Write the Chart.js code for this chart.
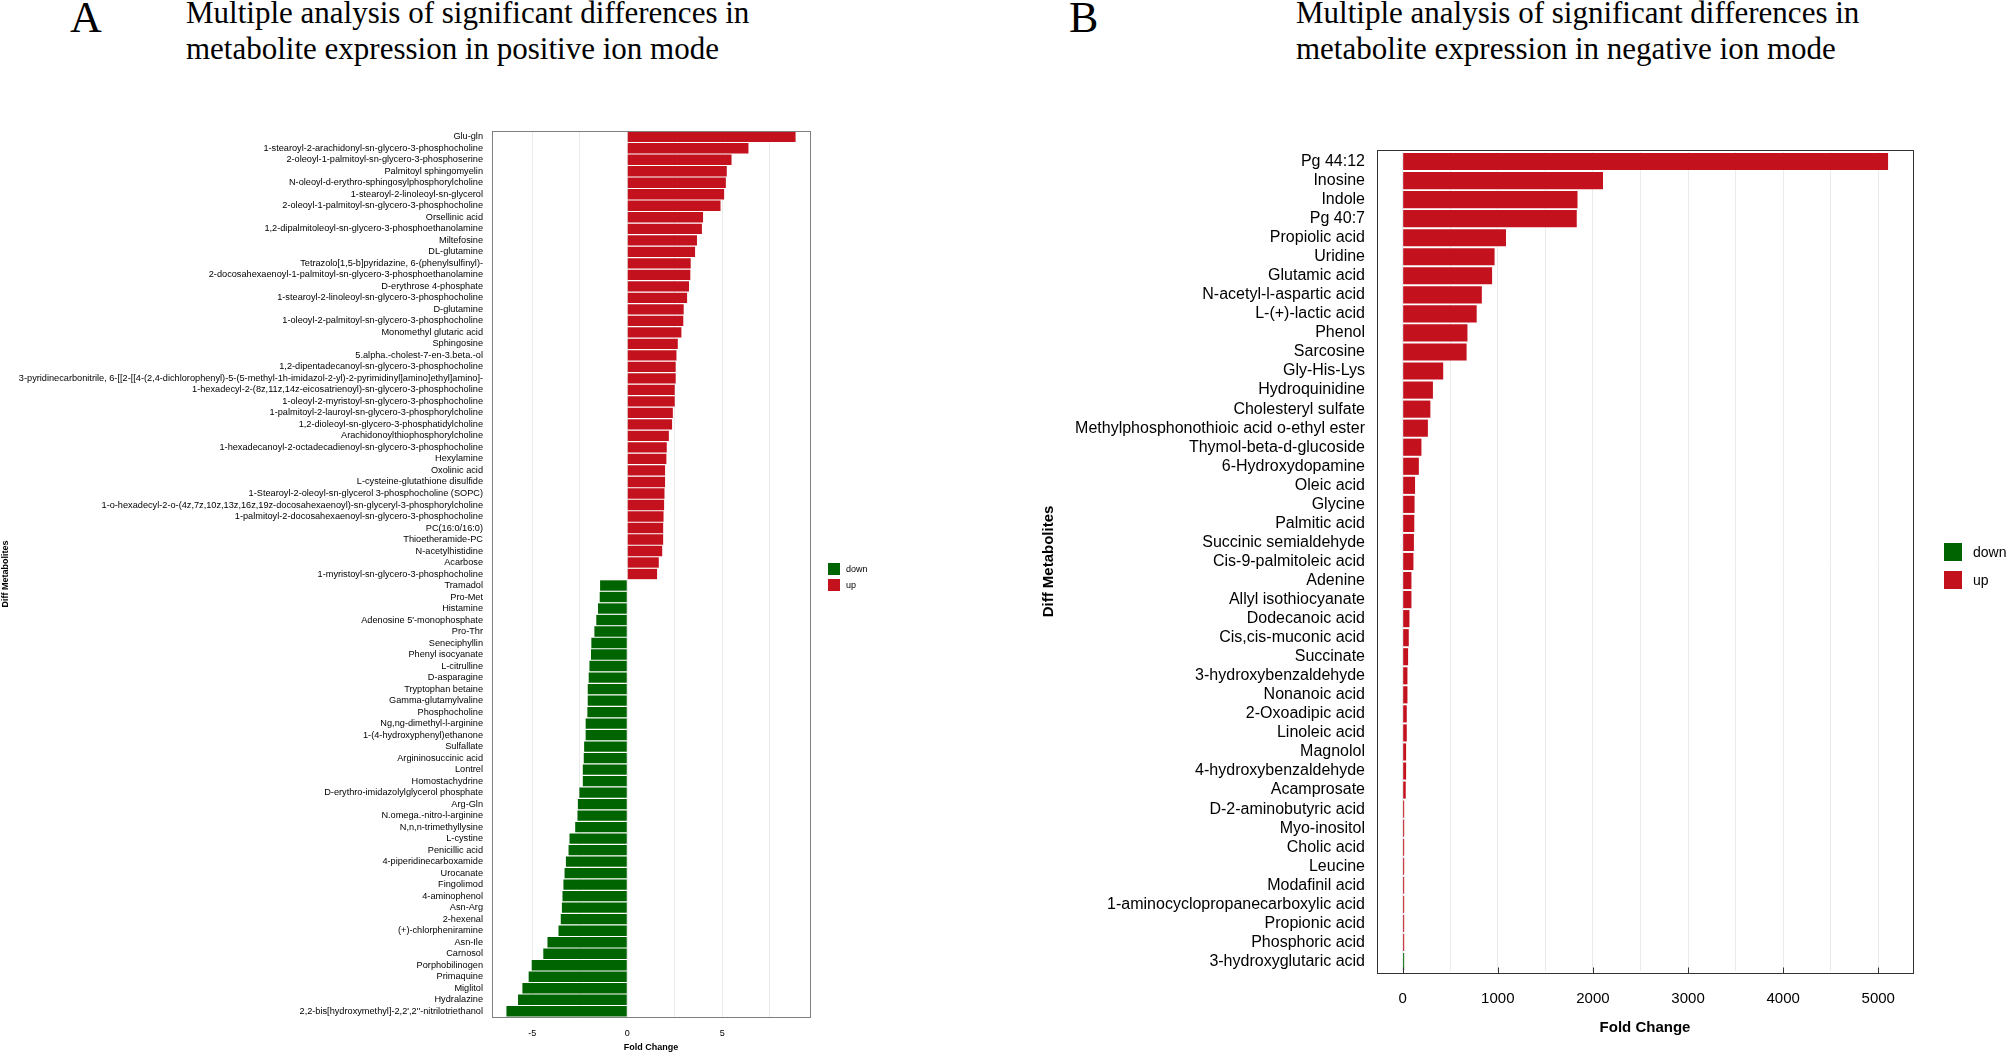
<!DOCTYPE html>
<html><head><meta charset="utf-8">
<script src="https://cdn.jsdelivr.net/npm/chart.js@4.4.1/dist/chart.umd.min.js"></script>
<style>
html,body{margin:0;padding:0;background:#fff;}
body{width:2008px;height:1054px;position:relative;overflow:hidden;}
.letter{position:absolute;font-family:"Liberation Serif","Times New Roman",serif;font-size:44px;line-height:44px;color:#000;}
.title{position:absolute;font-family:"Liberation Serif","Times New Roman",serif;font-size:31px;line-height:36px;color:#000;white-space:nowrap;}
canvas{position:absolute;}
.legtxt{position:absolute;font-family:"Liberation Sans",Arial,sans-serif;color:#000;white-space:nowrap;}
.sw{position:absolute;}
</style></head>
<body>
<div class="letter" style="left:70px;top:-4px;">A</div>
<div class="title" style="left:186px;top:-5px;">Multiple analysis of significant differences in<br>metabolite expression in positive ion mode</div>
<div class="letter" style="left:1069px;top:-4px;">B</div>
<div class="title" style="left:1296px;top:-5px;">Multiple analysis of significant differences in<br>metabolite expression in negative ion mode</div>

<canvas id="cA" width="830" height="1054" style="left:0;top:0;width:830px;height:1054px;"></canvas>
<canvas id="cB" width="968" height="1054" style="left:1040px;top:0;width:968px;height:1054px;"></canvas>

<div class="sw" style="left:828px;top:563px;width:12px;height:12px;background:#006400;"></div>
<div class="legtxt" style="left:846px;top:563px;font-size:9px;line-height:12px;">down</div>
<div class="sw" style="left:828px;top:579px;width:12px;height:12px;background:#C3121E;"></div>
<div class="legtxt" style="left:846px;top:579px;font-size:9px;line-height:12px;">up</div>

<div class="sw" style="left:1944px;top:543px;width:18px;height:18px;background:#006400;"></div>
<div class="legtxt" style="left:1973px;top:543px;font-size:14px;line-height:18px;">down</div>
<div class="sw" style="left:1944px;top:571px;width:18px;height:18px;background:#C3121E;"></div>
<div class="legtxt" style="left:1973px;top:571px;font-size:14px;line-height:18px;">up</div>

<script>
// ---------- Panel A: positive ion mode ----------
const posLabels = [
  "Glu-gln",
  "1-stearoyl-2-arachidonyl-sn-glycero-3-phosphocholine",
  "2-oleoyl-1-palmitoyl-sn-glycero-3-phosphoserine",
  "Palmitoyl sphingomyelin",
  "N-oleoyl-d-erythro-sphingosylphosphorylcholine",
  "1-stearoyl-2-linoleoyl-sn-glycerol",
  "2-oleoyl-1-palmitoyl-sn-glycero-3-phosphocholine",
  "Orsellinic acid",
  "1,2-dipalmitoleoyl-sn-glycero-3-phosphoethanolamine",
  "Miltefosine",
  "DL-glutamine",
  "Tetrazolo[1,5-b]pyridazine, 6-(phenylsulfinyl)-",
  "2-docosahexaenoyl-1-palmitoyl-sn-glycero-3-phosphoethanolamine",
  "D-erythrose 4-phosphate",
  "1-stearoyl-2-linoleoyl-sn-glycero-3-phosphocholine",
  "D-glutamine",
  "1-oleoyl-2-palmitoyl-sn-glycero-3-phosphocholine",
  "Monomethyl glutaric acid",
  "Sphingosine",
  "5.alpha.-cholest-7-en-3.beta.-ol",
  "1,2-dipentadecanoyl-sn-glycero-3-phosphocholine",
  "3-pyridinecarbonitrile, 6-[[2-[[4-(2,4-dichlorophenyl)-5-(5-methyl-1h-imidazol-2-yl)-2-pyrimidinyl]amino]ethyl]amino]-",
  "1-hexadecyl-2-(8z,11z,14z-eicosatrienoyl)-sn-glycero-3-phosphocholine",
  "1-oleoyl-2-myristoyl-sn-glycero-3-phosphocholine",
  "1-palmitoyl-2-lauroyl-sn-glycero-3-phosphorylcholine",
  "1,2-dioleoyl-sn-glycero-3-phosphatidylcholine",
  "Arachidonoylthiophosphorylcholine",
  "1-hexadecanoyl-2-octadecadienoyl-sn-glycero-3-phosphocholine",
  "Hexylamine",
  "Oxolinic acid",
  "L-cysteine-glutathione disulfide",
  "1-Stearoyl-2-oleoyl-sn-glycerol 3-phosphocholine (SOPC)",
  "1-o-hexadecyl-2-o-(4z,7z,10z,13z,16z,19z-docosahexaenoyl)-sn-glyceryl-3-phosphorylcholine",
  "1-palmitoyl-2-docosahexaenoyl-sn-glycero-3-phosphocholine",
  "PC(16:0/16:0)",
  "Thioetheramide-PC",
  "N-acetylhistidine",
  "Acarbose",
  "1-myristoyl-sn-glycero-3-phosphocholine",
  "Tramadol",
  "Pro-Met",
  "Histamine",
  "Adenosine 5'-monophosphate",
  "Pro-Thr",
  "Seneciphyllin",
  "Phenyl isocyanate",
  "L-citrulline",
  "D-asparagine",
  "Tryptophan betaine",
  "Gamma-glutamylvaline",
  "Phosphocholine",
  "Ng,ng-dimethyl-l-arginine",
  "1-(4-hydroxyphenyl)ethanone",
  "Sulfallate",
  "Argininosuccinic acid",
  "Lontrel",
  "Homostachydrine",
  "D-erythro-imidazolylglycerol phosphate",
  "Arg-Gln",
  "N.omega.-nitro-l-arginine",
  "N,n,n-trimethyllysine",
  "L-cystine",
  "Penicillic acid",
  "4-piperidinecarboxamide",
  "Urocanate",
  "Fingolimod",
  "4-aminophenol",
  "Asn-Arg",
  "2-hexenal",
  "(+)-chlorpheniramine",
  "Asn-Ile",
  "Carnosol",
  "Porphobilinogen",
  "Primaquine",
  "Miglitol",
  "Hydralazine",
  "2,2-bis[hydroxymethyl]-2,2',2''-nitrilotriethanol"
];
const posValues = [
  8.86, 6.38, 5.49, 5.24, 5.19, 5.10, 4.91, 3.99, 3.93, 3.67,
  3.57, 3.34, 3.32, 3.25, 3.15, 2.97, 2.95, 2.85, 2.66, 2.59,
  2.55, 2.55, 2.50, 2.50, 2.40, 2.36, 2.19, 2.08, 2.06, 1.99,
  1.99, 1.96, 1.94, 1.91, 1.89, 1.89, 1.84, 1.66, 1.57,
  -1.43, -1.45, -1.54, -1.63, -1.73, -1.89, -1.91, -1.99, -2.03, -2.08,
  -2.08, -2.10, -2.19, -2.19, -2.27, -2.29, -2.34, -2.34, -2.52, -2.60,
  -2.62, -2.74, -3.04, -3.09, -3.23, -3.30, -3.36, -3.41, -3.44, -3.50,
  -3.62, -4.20, -4.42, -5.03, -5.19, -5.52, -5.75, -6.36
];
const posGroups = posValues.map(v => v > 0 ? "up" : "down");
const posGrid = [-5, -2.5, 0, 2.5, 5, 7.5];
const posTickLabels = [-5, 0, 5];

// ---------- Panel B: negative ion mode ----------
const negLabels = [
  "Pg 44:12", "Inosine", "Indole", "Pg 40:7", "Propiolic acid", "Uridine",
  "Glutamic acid", "N-acetyl-l-aspartic acid", "L-(+)-lactic acid", "Phenol",
  "Sarcosine", "Gly-His-Lys", "Hydroquinidine", "Cholesteryl sulfate",
  "Methylphosphonothioic acid o-ethyl ester", "Thymol-beta-d-glucoside",
  "6-Hydroxydopamine", "Oleic acid", "Glycine", "Palmitic acid",
  "Succinic semialdehyde", "Cis-9-palmitoleic acid", "Adenine",
  "Allyl isothiocyanate", "Dodecanoic acid", "Cis,cis-muconic acid",
  "Succinate", "3-hydroxybenzaldehyde", "Nonanoic acid", "2-Oxoadipic acid",
  "Linoleic acid", "Magnolol", "4-hydroxybenzaldehyde", "Acamprosate",
  "D-2-aminobutyric acid", "Myo-inositol", "Cholic acid", "Leucine",
  "Modafinil acid", "1-aminocyclopropanecarboxylic acid", "Propionic acid",
  "Phosphoric acid", "3-hydroxyglutaric acid"
];
const negValues = [
  5103, 2106, 1838, 1830, 1086, 966, 940, 832, 778, 681,
  672, 426, 318, 291, 265, 197, 170, 130, 125, 122,
  118, 113, 92, 92, 71, 64, 57, 50, 50, 43,
  43, 36, 36, 32, 15, 15, 15, 11, 11, 8,
  2, 2, 0.6
];
const negGroups = negLabels.map((l, i) => i === negLabels.length - 1 ? "down" : "up");
const negGrid = [0, 500, 1000, 1500, 2000, 2500, 3000, 3500, 4000, 4500, 5000];
const negTickLabels = [0, 1000, 2000, 3000, 4000, 5000];

const groupColors = { up: "#C3121E", down: "#006400" };
const FONT = "'Liberation Sans', Arial, Helvetica, sans-serif";

function framePlugin(cfg) {
  return {
    id: 'frame',
    afterDraw(chart) {
      const { ctx, chartArea: a, scales } = chart;
      const top = Math.round(a.top - cfg.frameExpand) + 0.5;
      const bottom = Math.round(a.bottom + cfg.frameExpand) + 0.5;
      ctx.save();
      ctx.strokeStyle = cfg.frameColor;
      ctx.lineWidth = 1;
      ctx.strokeRect(Math.round(a.left) + 0.5, top, Math.round(a.right - a.left), bottom - top);
      if (cfg.tickLen) {
        ctx.beginPath();
        cfg.shown.forEach(v => {
          const x = Math.round(scales.x.getPixelForValue(v)) + 0.5;
          ctx.moveTo(x, bottom);
          ctx.lineTo(x, bottom - cfg.tickLen);
        });
        ctx.stroke();
      }
      ctx.restore();
    }
  };
}

function makeChart(id, cfg) {
  return new Chart(document.getElementById(id), {
    type: 'bar',
    data: {
      labels: cfg.labels,
      datasets: [{
        data: cfg.values,
        backgroundColor: cfg.groups.map(g => groupColors[g]),
        borderWidth: 0,
        barPercentage: 0.9,
        categoryPercentage: 1.0,
        minBarLength: cfg.minBar || 0
      }]
    },
    options: {
      indexAxis: 'y',
      responsive: false,
      animation: false,
      devicePixelRatio: 1,
      layout: { padding: { top: cfg.top, right: cfg.right, left: 0, bottom: cfg.bottomPad } },
      plugins: { legend: { display: false }, tooltip: { enabled: false } },
      scales: {
        x: {
          type: 'linear',
          min: cfg.min, max: cfg.max,
          afterBuildTicks(s) { s.ticks = cfg.grid.map(v => ({ value: v })); },
          afterFit(s) { s.height = cfg.xHeight; },
          ticks: {
            autoSkip: false,
            maxRotation: 0,
            padding: cfg.xTickPad,
            color: '#000',
            font: { family: FONT, size: cfg.tickFont },
            callback: v => cfg.shown.includes(v) ? String(v) : ''
          },
          grid: { drawTicks: false, color: '#EBEBEB', lineWidth: 1 },
          border: { display: false },
          title: {
            display: true, text: 'Fold Change', color: '#000',
            font: { family: FONT, size: cfg.titleFont, weight: 'bold' },
            padding: { top: 0, bottom: cfg.titlePadB }
          }
        },
        y: {
          type: 'category',
          afterFit(s) { s.width = cfg.yWidth; },
          ticks: {
            autoSkip: false,
            padding: cfg.yTickPad,
            color: '#000',
            font: { family: FONT, size: cfg.labelFont }
          },
          grid: { display: false, drawTicks: false },
          border: { display: false },
          title: {
            display: true, text: 'Diff Metabolites', color: '#000',
            font: { family: FONT, size: cfg.titleFont, weight: 'bold' },
            padding: { top: 0, bottom: 0 }
          }
        }
      }
    },
    plugins: [framePlugin(cfg)]
  });
}

makeChart('cA', {
  labels: posLabels, values: posValues, groups: posGroups,
  min: -7.12, max: 9.62, grid: posGrid, shown: posTickLabels,
  top: 131, right: 20, bottomPad: 0,
  xHeight: 37, yWidth: 492,
  xTickPad: 11, yTickPad: 9,
  tickFont: 9, labelFont: 9.2, titleFont: 9, titlePadB: 1,
  frameColor: '#7f7f7f', frameExpand: 0, tickLen: 0
});

makeChart('cB', {
  labels: negLabels, values: negValues, groups: negGroups,
  min: -270, max: 5365, grid: negGrid, shown: negTickLabels,
  top: 152, right: 95, bottomPad: 17, minBar: 1.5,
  xHeight: 1054 - 17 - 971, yWidth: 337,
  xTickPad: 19, yTickPad: 12,
  tickFont: 15, labelFont: 16, titleFont: 15, titlePadB: 0,
  frameColor: '#333333', frameExpand: 2, tickLen: 6
});
</script>
</body></html>
